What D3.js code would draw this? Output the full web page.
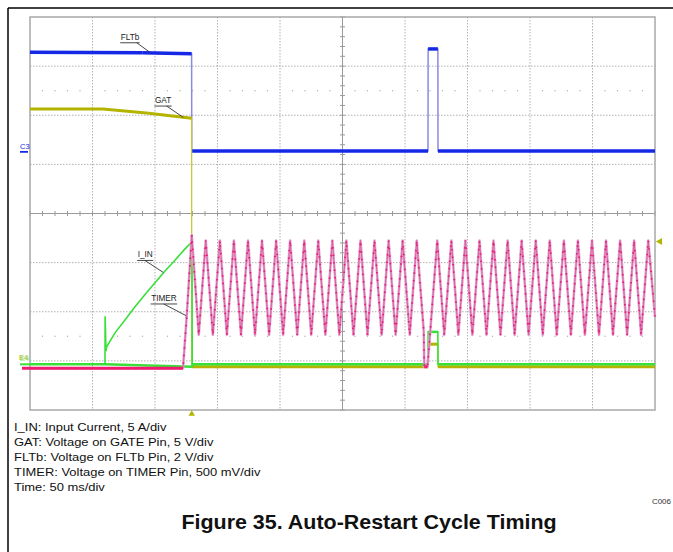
<!DOCTYPE html>
<html>
<head>
<meta charset="utf-8">
<script src="https://cdn.jsdelivr.net/npm/d3@7/dist/d3.min.js"></script>
<style>
  html, body { margin: 0; padding: 0; background: #fff; }
  svg { display: block; font-family: "Liberation Sans", Arial, Helvetica, sans-serif; }
</style>
</head>
<body>
<svg id="chart" width="673" height="552"></svg>
<script>
// Scope capture: time in ms (50 ms/div, 10 div), amplitude in screen divisions (-4..4).
const timeTicks = [0, 50, 100, 150, 200, 250, 300, 350, 400, 450, 500];
const divTicks = [-4, -3, -2, -1, 0, 1, 2, 3, 4];
const dotRows = [2.5, -2.5];

// FLTb (channel 3)
const fltbT = [0, 90, 129.3, 129.4, 318.4, 318.5, 326.3, 326.4, 500];
const fltbV = [3.28, 3.27, 3.25, 1.27, 1.27, 3.35, 3.35, 1.27, 1.27];

// GAT
const gatT = [0, 58.4, 95, 129.3, 129.4, 318.4, 318.5, 326.3, 326.4, 500];
const gatV = [2.125, 2.125, 2.04, 1.94, -3.12, -3.12, -2.66, -2.66, -3.12, -3.12];

// I_IN
const iinT = [0, 60, 60.1, 60.8, 61.2, 68, 76, 84, 92, 100, 108, 116, 124, 129.6, 129.8, 130.4, 318.4, 318.5, 326.3, 326.4, 500];
const iinV = [-3.07, -3.07, -2.09, -2.80, -2.72, -2.43, -2.17, -1.90, -1.65, -1.41, -1.17, -0.95, -0.72, -0.58, -3.12, -3.07, -3.07, -2.41, -2.41, -3.07, -3.07];

// TIMER
const timerT = [0, 122.4, 125.4, 129.4,
  135.0, 140.6, 146.3, 151.9, 157.5, 163.1, 168.8, 174.4, 180.0, 185.6, 191.3, 196.9,
  202.5, 208.1, 213.8, 219.4, 225.0, 230.6, 236.3, 241.9, 247.5, 253.1, 258.8, 264.4,
  270.0, 275.6, 281.3, 286.9, 292.5, 298.1, 303.8, 309.4, 315.0, 315.4, 318.0,
  325.8, 331.4, 337.1, 342.7, 348.3, 353.9, 359.6, 365.2, 370.8, 376.4, 382.1, 387.7,
  393.3, 398.9, 404.6, 410.2, 415.8, 421.4, 427.1, 432.7, 438.3, 443.9, 449.6, 455.2,
  460.8, 466.4, 472.1, 477.7, 483.3, 488.9, 494.6, 500];
const timerV = [-3.15, -3.15, -2.08, -0.44,
  -2.47, -0.55, -2.47, -0.55, -2.47, -0.55, -2.47, -0.55, -2.47, -0.55, -2.47, -0.55,
  -2.47, -0.55, -2.47, -0.55, -2.47, -0.55, -2.47, -0.55, -2.47, -0.55, -2.47, -0.55,
  -2.47, -0.55, -2.47, -0.55, -2.47, -0.55, -2.47, -0.55, -2.40, -3.12, -3.12,
  -0.55, -2.47, -0.55, -2.47, -0.55, -2.47, -0.55, -2.47, -0.55, -2.47, -0.55, -2.47,
  -0.55, -2.47, -0.55, -2.47, -0.55, -2.47, -0.55, -2.47, -0.55, -2.47, -0.55, -2.47,
  -0.55, -2.47, -0.55, -2.47, -0.55, -2.47, -0.55, -2.10];

const legendLines = [
  "I_IN: Input Current, 5 A/div",
  "GAT: Voltage on GATE Pin, 5 V/div",
  "FLTb: Voltage on FLTb Pin, 2 V/div",
  "TIMER: Voltage on TIMER Pin, 500 mV/div",
  "Time: 50 ms/div"
];
const titleText = "Figure 35. Auto-Restart Cycle Timing";
const figCode = "C006";

const zip = (ts, vs) => ts.map((t, i) => [t, vs[i]]);

const svg = d3.select("#chart");
const x = d3.scaleLinear().domain([0, 500]).range([30, 655]);
const y = d3.scaleLinear().domain([-4, 4]).range([410, 17]);

// Outer page frame
svg.append("line").attr("x1", 8).attr("y1", 8).attr("x2", 673).attr("y2", 8)
  .attr("stroke", "#000").attr("stroke-width", 1.5);
svg.append("line").attr("x1", 8).attr("y1", 8).attr("x2", 8).attr("y2", 552)
  .attr("stroke", "#000").attr("stroke-width", 1.5);

// Graticule
const grid = svg.append("g");
grid.selectAll("line.v").data(timeTicks.slice(1, -1)).join("line")
  .attr("x1", d => x(d)).attr("x2", d => x(d)).attr("y1", y(4)).attr("y2", y(-4))
  .attr("stroke", "#b0b0b0").attr("stroke-width", 1).attr("stroke-dasharray", "1.5 1.5");
grid.selectAll("line.h").data(divTicks.slice(1, -1)).join("line")
  .attr("y1", d => y(d)).attr("y2", d => y(d)).attr("x1", x(0)).attr("x2", x(500))
  .attr("stroke", "#b0b0b0").attr("stroke-width", 1).attr("stroke-dasharray", "1.5 1.5");

// Dotted marker rows
const minorT = d3.range(0, 500.01, 10);
dotRows.forEach(r => {
  grid.selectAll(null).data(minorT.filter(t => t % 50 !== 0)).join("circle")
    .attr("cx", d => x(d)).attr("cy", y(r)).attr("r", 0.7).attr("fill", "#b0b0b0");
});

// Centre cross with minor ticks
grid.append("line").attr("x1", x(250)).attr("x2", x(250)).attr("y1", y(4)).attr("y2", y(-4))
  .attr("stroke", "#9a9a9a").attr("stroke-width", 1);
grid.append("line").attr("y1", y(0)).attr("y2", y(0)).attr("x1", x(0)).attr("x2", x(500))
  .attr("stroke", "#9a9a9a").attr("stroke-width", 1);
grid.selectAll(null).data(d3.range(-4, 4.01, 0.2)).join("line")
  .attr("x1", x(250) - 2.5).attr("x2", x(250) + 2.5).attr("y1", d => y(d)).attr("y2", d => y(d))
  .attr("stroke", "#9a9a9a");
grid.selectAll(null).data(minorT).join("line")
  .attr("y1", y(0) - 2.5).attr("y2", y(0) + 2.5).attr("x1", d => x(d)).attr("x2", d => x(d))
  .attr("stroke", "#9a9a9a");

// Plot border
grid.append("rect").attr("x", x(0)).attr("y", y(4)).attr("width", x(500) - x(0)).attr("height", y(-4) - y(4))
  .attr("fill", "none").attr("stroke", "#a8a8a8").attr("stroke-width", 1.5);

const line = d3.line().x(d => x(d[0])).y(d => y(d[1]));

// Draws a trace with fast edges thin and dwell segments thick
function trace(pts, color, edgeColor, thick, thin) {
  const g = svg.append("g");
  g.append("path").attr("d", line(pts)).attr("fill", "none")
    .attr("stroke", edgeColor).attr("stroke-width", thin);
  for (let i = 0; i < pts.length - 1; i++) {
    const dx = Math.abs(x(pts[i + 1][0]) - x(pts[i][0]));
    const dy = Math.abs(y(pts[i + 1][1]) - y(pts[i][1]));
    if (dx > 1 && dy / dx < 1.5) {
      g.append("path").attr("d", line([pts[i], pts[i + 1]])).attr("fill", "none")
        .attr("stroke", color).attr("stroke-width", thick).attr("stroke-linecap", "butt");
    }
  }
  return g;
}

trace(zip(fltbT, fltbV), "#1428e6", "#8a8ae0", 3.5, 1.5);
trace(zip(gatT, gatV), "#b4b400", "#c8c83a", 3, 1.3);

// I_IN
const iin = zip(iinT, iinV);
svg.append("path").attr("d", line(iin)).attr("fill", "none")
  .attr("stroke", "#38e038").attr("stroke-width", 1.6);
trace(iin.filter(d => d[1] <= -3.0 || d[1] === -2.41), "#38e038", "none", 2.5, 0);

// TIMER
const tm = zip(timerT, timerV);
svg.append("path").attr("d", line(tm)).attr("fill", "none")
  .attr("stroke", "#e2a6ce").attr("stroke-width", 2.6).attr("stroke-linejoin", "round");
svg.append("path").attr("d", line(tm)).attr("fill", "none")
  .attr("stroke", "#d85a9c").attr("stroke-width", 0.9);
svg.append("path").attr("d", line(tm)).attr("fill", "none")
  .attr("stroke", "#ea1a7c").attr("stroke-width", 1.8).attr("stroke-dasharray", "1.5 6");
svg.append("path").attr("d", line(tm.slice(0, 2))).attr("fill", "none")
  .attr("stroke", "#f01c74").attr("stroke-width", 3);
svg.append("path").attr("d", line(tm.slice(37, 39))).attr("fill", "none")
  .attr("stroke", "#f01c74").attr("stroke-width", 3);

// Trace annotations with leaders
const notes = [
  { text: "FLTb", t: 96, v: 3.28, lx: -13.3, ly: -9.6, tx: -16 },
  { text: "GAT", t: 122.6, v: 1.957, lx: -16.6, ly: -11.3, tx: -11.7 },
  { text: "I_IN", t: 106.6, v: -1.2, lx: -18.3, ly: -12, tx: -7.3 },
  { text: "TIMER", t: 124.9, v: -2.08, lx: -22.4, ly: -11.7, tx: -12.6 }
];
notes.forEach(n => {
  const px = x(n.t), py = y(n.v);
  const sx = px + n.lx, sy = py + n.ly;
  svg.append("line").attr("x1", sx).attr("y1", sy).attr("x2", px).attr("y2", py)
    .attr("stroke", "#333").attr("stroke-width", 0.9);
  const tx = svg.append("text").attr("x", sx + n.tx).attr("y", sy - 3)
    .attr("font-size", 8.2).attr("fill", "#222").text(n.text);
  const w = tx.node().getComputedTextLength();
  svg.append("line").attr("x1", sx + n.tx - 0.5).attr("x2", sx + n.tx + w + 0.5)
    .attr("y1", sy).attr("y2", sy).attr("stroke", "#333").attr("stroke-width", 0.9);
});

// Channel ground markers
svg.append("text").attr("x", 20).attr("y", 149).attr("font-size", 7.5).attr("fill", "#1428e6").text("C3");
svg.append("line").attr("x1", 20).attr("x2", 28).attr("y1", y(1.255)).attr("y2", y(1.255))
  .attr("stroke", "#1428e6").attr("stroke-width", 1.8);
svg.append("text").attr("x", 19).attr("y", 360).attr("font-size", 7.5).attr("fill", "#b4b400").text("E4");
svg.append("text").attr("x", 20).attr("y", 361).attr("font-size", 7.5).attr("fill", "#5ee05e").attr("opacity", 0.7).text("E4");
svg.append("line").attr("x1", 20).attr("x2", x(0)).attr("y1", y(-3.07)).attr("y2", y(-3.07))
  .attr("stroke", "#38e038").attr("stroke-width", 2);
svg.append("line").attr("x1", 22).attr("x2", x(0)).attr("y1", y(-3.15)).attr("y2", y(-3.15))
  .attr("stroke", "#f01c74").attr("stroke-width", 3);

// Trigger position and level markers
svg.append("path").attr("d", d3.symbol(d3.symbolTriangle, 18)())
  .attr("transform", `translate(${x(129.4)},${y(-4) + 4})`).attr("fill", "#b4b400");
svg.append("path").attr("d", d3.symbol(d3.symbolTriangle, 22)())
  .attr("transform", `translate(${x(500) + 5},${y(-0.57)}) rotate(-90)`).attr("fill", "#b4b400");

// Legend text block
const leg = svg.append("g").attr("transform", "translate(14,0) scale(1.2,1)");
leg.selectAll("text").data(legendLines).join("text")
  .attr("x", 0).attr("y", (d, i) => 431 + i * 15)
  .attr("font-size", 10.8).attr("fill", "#111").text(d => d);

svg.append("text").attr("x", 671).attr("y", 504).attr("text-anchor", "end")
  .attr("font-size", 8).attr("fill", "#333").text(figCode);

svg.append("g").attr("transform", "translate(369,529) scale(1.1,1)")
  .append("text").attr("x", 0).attr("y", 0).attr("text-anchor", "middle")
  .attr("font-size", 19.5).attr("font-weight", "bold").attr("fill", "#111").text(titleText);
</script>
</body>
</html>
